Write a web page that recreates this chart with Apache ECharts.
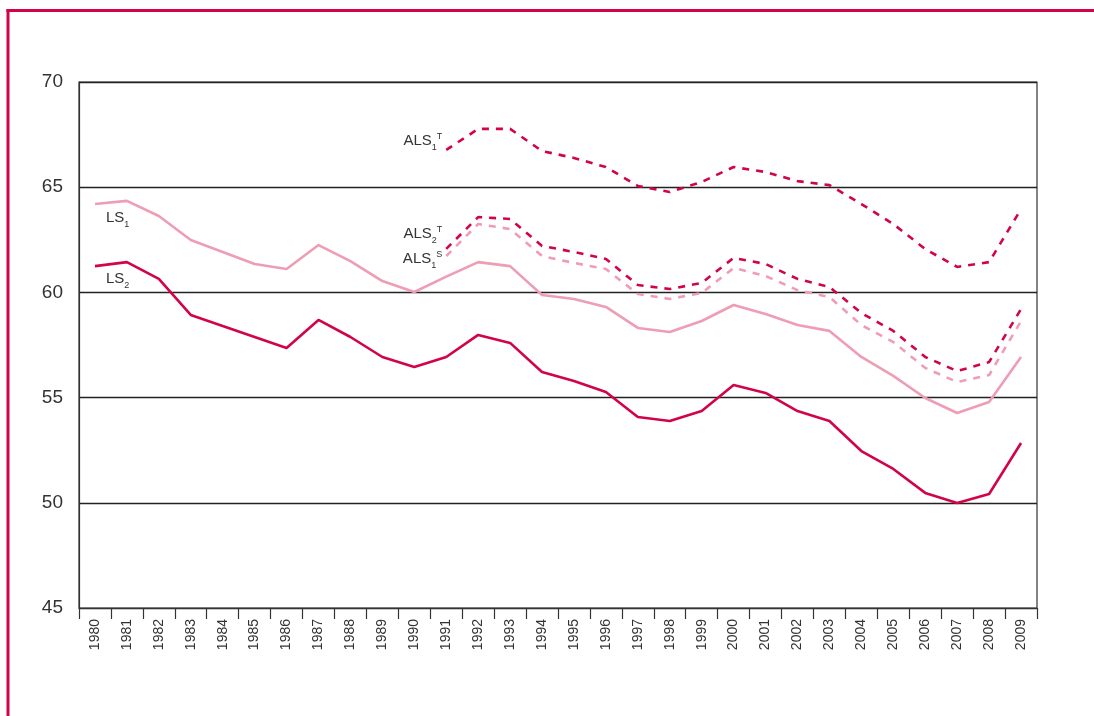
<!DOCTYPE html>
<html>
<head>
<meta charset="utf-8">
<script src="https://cdn.jsdelivr.net/npm/echarts@6/dist/echarts.min.js"></script>
<style>
  html, body { margin: 0; padding: 0; background: #fff; }
  #chart { width: 1094px; height: 716px; }
</style>
</head>
<body>
<div id="chart"></div>
<script>
// Years on the category axis
const years = ['1980','1981','1982','1983','1984','1985','1986','1987','1988','1989',
  '1990','1991','1992','1993','1994','1995','1996','1997','1998','1999',
  '2000','2001','2002','2003','2004','2005','2006','2007','2008','2009'];

// Y axis ticks
const yMin = 45, yMax = 70, yStep = 5;

// LS1 (solid, light)
const ls1 = [64.2, 64.35, 63.63, 62.49, 61.92, 61.35, 61.11, 62.25, 61.49, 60.54,
  60.02, 60.75, 61.44, 61.25, 59.88, 59.69, 59.31, 58.31, 58.12, 58.64,
  59.40, 58.97, 58.45, 58.17, 56.93, 56.03, 54.98, 54.27, 54.79, 56.93];

// LS2 (solid, dark)
const ls2 = [61.25, 61.44, 60.64, 58.93, 58.40, 57.88, 57.36, 58.69, 57.88, 56.93,
  56.45, 56.93, 57.98, 57.60, 56.22, 55.79, 55.27, 54.08, 53.89, 54.36,
  55.60, 55.22, 54.36, 53.89, 52.46, 51.61, 50.47, 49.99, 50.42, 52.84];

// ALS1 T (dashed, dark, upper)
const als1T = [null, null, null, null, null, null, null, null, null, null,
  null, 66.77, 67.77, 67.77, 66.72, 66.39, 65.96, 65.06, 64.77, 65.25,
  65.96, 65.72, 65.29, 65.10, 64.20, 63.25, 62.06, 61.21, 61.44, 63.96];

// ALS2 T (dashed, dark)
const als2T = [null, null, null, null, null, null, null, null, null, null,
  null, 62.07, 63.58, 63.49, 62.21, 61.92, 61.59, 60.35, 60.16, 60.45,
  61.64, 61.35, 60.64, 60.26, 59.02, 58.17, 56.93, 56.26, 56.69, 59.21];

// ALS1 S (dashed, light)
const als1S = [null, null, null, null, null, null, null, null, null, null,
  null, 61.73, 63.25, 63.01, 61.73, 61.40, 61.11, 59.92, 59.69, 59.97,
  61.16, 60.78, 60.11, 59.78, 58.45, 57.64, 56.41, 55.74, 56.07, 58.64];

const DARK = '#d1044b';
const LIGHT = '#ee9db4';
const INK = '#333333';
const FONT = 'Liberation Sans, Arial, sans-serif';

const rich = {
  b:   { fontSize: 15, color: INK, fontFamily: FONT, lineHeight: 22, verticalAlign: 'middle' },
  sub: { fontSize: 9,  color: INK, fontFamily: FONT, lineHeight: 22, verticalAlign: 'bottom' },
  sup: { fontSize: 9,  color: INK, fontFamily: FONT, lineHeight: 22, verticalAlign: 'top', padding: [2, 0, 0, 0] }
};

// Series name tag anchored to one data point
function tag(values, idx, text, align, offset) {
  return {
    silent: true,
    symbol: 'circle',
    symbolSize: 0,
    data: [{
      coord: [years[idx], values[idx]],
      label: {
        show: true,
        position: 'inside',
        align: align,
        verticalAlign: 'middle',
        offset: offset,
        formatter: text,
        rich: rich
      }
    }]
  };
}

function lineSeries(name, values, color, dashed, markPoint) {
  return {
    name: name,
    type: 'line',
    data: values,
    symbol: 'none',
    connectNulls: false,
    animation: false,
    lineStyle: {
      color: color,
      width: 2.6,
      type: dashed ? [7, 7] : 'solid',
      cap: 'butt'
    },
    z: dashed ? 3 : 2,
    markPoint: markPoint
  };
}

const chart = echarts.init(document.getElementById('chart'), null, { renderer: 'canvas' });

chart.setOption({
  backgroundColor: '#ffffff',
  animation: false,
  grid: {
    left: 79, right: 57, top: 82, bottom: 108,
    show: true,
    borderColor: INK,
    borderWidth: 1.2,
    backgroundColor: 'transparent'
  },
  xAxis: {
    type: 'category',
    data: years,
    boundaryGap: true,
    axisLine: { show: true, lineStyle: { color: INK, width: 1.2 } },
    axisTick: { show: true, length: 11, alignWithLabel: false, interval: 0, lineStyle: { color: INK, width: 1.2 } },
    axisLabel: {
      interval: 0,
      rotate: 90,
      margin: 11,
      color: INK,
      fontSize: 14,
      fontFamily: FONT
    },
    splitLine: { show: false }
  },
  yAxis: {
    type: 'value',
    min: yMin,
    max: yMax,
    interval: yStep,
    axisLine: { show: true, lineStyle: { color: INK, width: 1.2 } },
    axisTick: { show: false },
    axisLabel: {
      margin: 16,
      color: INK,
      fontSize: 19,
      fontFamily: FONT
    },
    splitLine: { show: true, lineStyle: { color: '#222222', width: 1.4 } }
  },
  series: [
    lineSeries('LS1', ls1, LIGHT, false, tag(ls1, 0, '{b|LS}{sub|1}', 'left', [11, 14])),
    lineSeries('LS2', ls2, DARK, false, tag(ls2, 0, '{b|LS}{sub|2}', 'left', [11, 13])),
    lineSeries('ALS1S', als1S, LIGHT, true, tag(als1S, 11, '{b|ALS}{sub|1}{sup|S}', 'right', [-4, 3])),
    lineSeries('ALS2T', als2T, DARK, true, tag(als2T, 11, '{b|ALS}{sub|2}{sup|T}', 'right', [-4, -15])),
    lineSeries('ALS1T', als1T, DARK, true, tag(als1T, 11, '{b|ALS}{sub|1}{sup|T}', 'right', [-4, -9]))
  ],
  graphic: [
    {
      type: 'line',
      silent: true,
      shape: { x1: 6.5, y1: 10.5, x2: 1094, y2: 10.5 },
      style: { stroke: DARK, lineWidth: 3 }
    },
    {
      type: 'line',
      silent: true,
      shape: { x1: 8, y1: 9, x2: 8, y2: 716 },
      style: { stroke: DARK, lineWidth: 3 }
    }
  ]
});
</script>
</body>
</html>
